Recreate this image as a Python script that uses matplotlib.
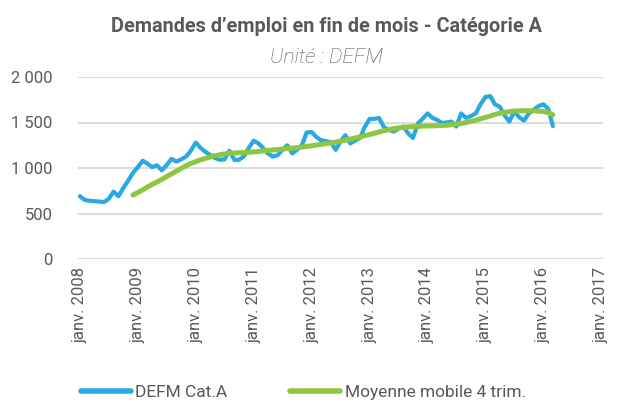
import matplotlib
matplotlib.use('Agg')
import matplotlib.pyplot as plt
import pandas as pd

plt.rcParams['font.family'] = ['Roboto', 'DejaVu Sans']

# DEFM catégorie A, fin de mois, janv. 2008 -> mars 2016
defm = [690, 650, 640, 635, 632, 625, 660, 740, 690, 780, 860, 945,
        1010, 1080, 1050, 1010, 1030, 975, 1030, 1100, 1070, 1095, 1125, 1190,
        1280, 1220, 1180, 1145, 1110, 1090, 1095, 1190, 1090, 1090, 1130, 1220,
        1300, 1270, 1220, 1160, 1125, 1140, 1200, 1250, 1160, 1200, 1250, 1390,
        1395, 1340, 1305, 1295, 1285, 1200, 1290, 1360, 1270, 1300, 1330, 1450,
        1540, 1540, 1550, 1450, 1420, 1400, 1430, 1455, 1380, 1330, 1490, 1540,
        1600, 1550, 1530, 1495, 1500, 1510, 1455, 1600, 1550, 1570, 1600, 1700,
        1780, 1790, 1700, 1675, 1580, 1510, 1620, 1560, 1520, 1600, 1640, 1680,
        1700, 1650, 1460]

# moyenne mobile 4 trimestres, déc. 2008 -> mars 2016
moy_mobile = [703,
              730, 760, 790, 820, 845, 875, 905, 935, 965, 995, 1025, 1050,
              1070, 1090, 1105, 1120, 1135, 1145, 1155, 1162, 1165, 1168, 1170, 1173,
              1177, 1182, 1188, 1193, 1198, 1203, 1208, 1213, 1218, 1224, 1230, 1237,
              1244, 1252, 1260, 1268, 1276, 1285, 1295, 1305, 1318, 1330, 1342, 1355,
              1368, 1382, 1396, 1410, 1422, 1432, 1440, 1446, 1452, 1456, 1458, 1460,
              1462, 1463, 1465, 1467, 1470, 1475, 1482, 1490, 1500, 1512, 1525, 1540,
              1556, 1572, 1588, 1602, 1612, 1620, 1625, 1628, 1630, 1630, 1628, 1625,
              1620, 1608, 1585]

years = list(range(2008, 2018))
xtick_labels = ['janv. %d' % y for y in years]
ytick_vals = [0, 500, 1000, 1500, 2000]
ytick_labels = ['0', '500', '1 000', '1 500', '2 000']

blue = '#29A9E1'
green = '#8DC641'
grey = '#595959'

dates = pd.date_range('2008-01-01', periods=len(defm), freq='MS')
dates_mm = dates[len(defm) - len(moy_mobile):]
tick_dates = pd.to_datetime(['%d-01-01' % y for y in years])

fig = plt.figure(figsize=(6.18, 4.0), dpi=100)
ax = fig.add_axes([0.126, 0.3525, 0.85, 0.455])

ax.plot(dates, defm, color=blue, lw=3.0, solid_joinstyle='round',
        solid_capstyle='round', label='DEFM Cat.A', zorder=3)
ax.plot(dates_mm, moy_mobile, color=green, lw=3.6, solid_joinstyle='round',
        solid_capstyle='round', label='Moyenne mobile 4 trim.', zorder=4)

ax.set_ylim(0, 2000)
ax.set_xlim(pd.Timestamp('2007-12-20'), pd.Timestamp('2017-01-12'))
ax.set_yticks(ytick_vals)
ax.set_yticklabels(ytick_labels)
ax.set_xticks(tick_dates)
ax.set_xticklabels(xtick_labels, rotation=90)
ax.tick_params(axis='both', length=0, colors=grey, labelsize=12)
ax.tick_params(axis='y', pad=18)
ax.tick_params(axis='x', pad=6)
ax.grid(axis='y', color='#D9D9D9', lw=1.3)
for s in ax.spines.values():
    s.set_visible(False)

fig.text(0.529, 0.921, "Demandes d\u2019emploi en fin de mois - Cat\u00e9gorie A",
         ha='center', va='baseline', fontsize=14.3, fontweight='bold', color=grey)
fig.text(0.528, 0.843, 'Unit\u00e9 : DEFM', ha='center', va='baseline',
         fontsize=15, style='italic', fontweight='light', color='#555555')

leg = fig.legend(loc='center left', bbox_to_anchor=(0.105, 0.018), ncol=2,
                 frameon=False, fontsize=12.5, handlelength=2.9,
                 handletextpad=0.25, columnspacing=3.6)
for t in leg.get_texts():
    t.set_color(grey)
for h in leg.get_lines():
    h.set_linewidth(4)

fig.savefig('out.png', dpi=100)
